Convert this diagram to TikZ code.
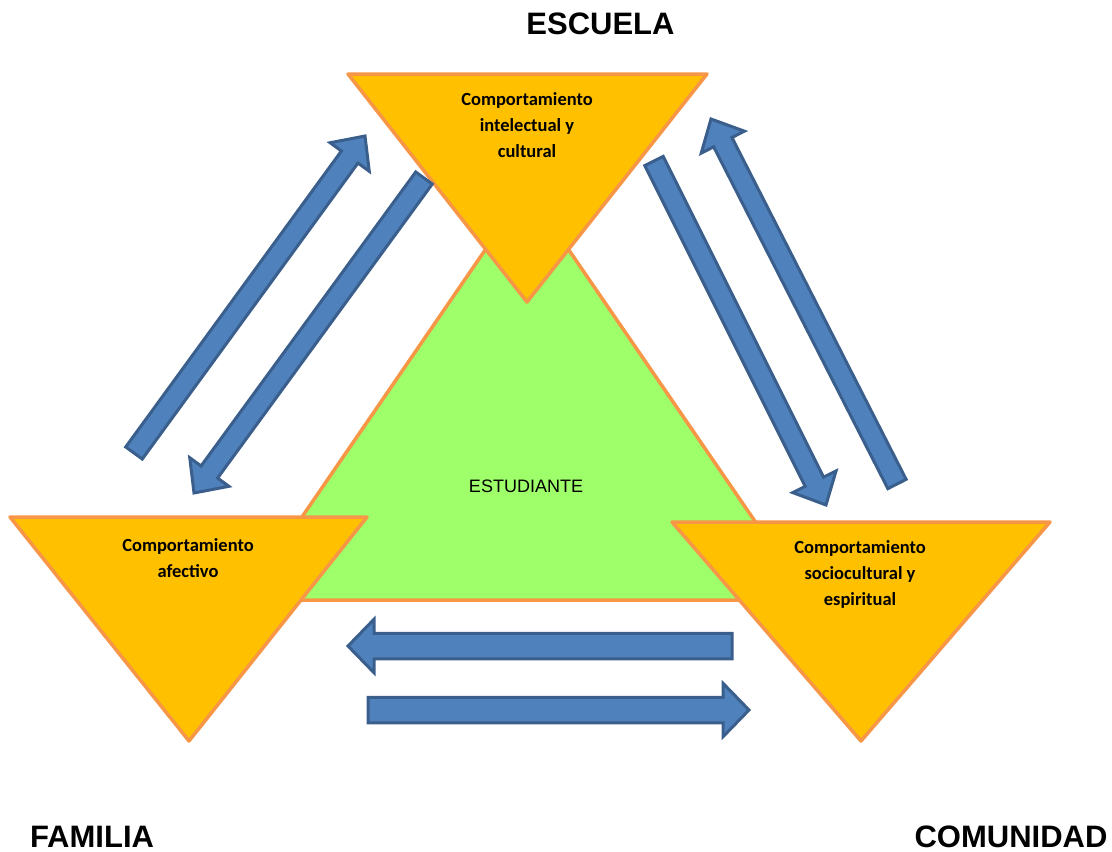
\documentclass[tikz,border=0pt]{standalone}
\usepackage{fontspec}
\setmainfont{Liberation Sans}
\newfontfamily\calibri{Carlito}
\usetikzlibrary{calc}

\definecolor{triorange}{HTML}{FFC000}
\definecolor{triedge}{HTML}{F79646}
\definecolor{midgreen}{HTML}{9EFF6A}
\definecolor{arrowblue}{HTML}{4F81BD}
\definecolor{arrowedge}{HTML}{3A5F8C}

% block arrow: name, tail, tip, half width of the shaft
\newcommand{\blockarrow}[4]{%
  \pgfmathsetmacro\headhalf{#4+14}
  \coordinate (#1b) at ($(#3)!26pt!(#2)$);
  \draw[barrow]
    ($(#2)!#4pt!90:(#3)$) -- ($(#1b)!#4pt!90:(#3)$) -- ($(#1b)!\headhalf pt!90:(#3)$)
    -- (#3) -- ($(#1b)!\headhalf pt!-90:(#3)$) -- ($(#1b)!#4pt!-90:(#3)$)
    -- ($(#2)!#4pt!-90:(#3)$) -- cycle;
}

\begin{document}
\begin{tikzpicture}[x=1pt, y=-1pt,
  tri/.style={fill=triorange, draw=triedge, line width=3.5pt, line join=round},
  barrow/.style={fill=arrowblue, draw=arrowedge, line width=3pt},
  title/.style={font=\bfseries\fontsize{31}{36}\selectfont, inner sep=0pt, anchor=base},
  trilabel/.style={font=\calibri\bfseries\fontsize{18.5}{26}\selectfont, align=center, inner sep=0pt, anchor=north}]

\useasboundingbox (0,0) rectangle (1112,852);

% middle triangle
\draw[fill=midgreen, draw=triedge, line width=3.5pt, line join=round]
    (527,189) -- (809,600) -- (245,600) -- cycle;
\node[font=\fontsize{18}{22}\selectfont, inner sep=0pt, anchor=base] (estudiante) at (526,492) {ESTUDIANTE};

% three corners
\draw[tri] (348,74) -- (707,74) -- (527,302) -- cycle;
\draw[tri] (10,517) -- (367,517) -- (189,741) -- cycle;
\draw[tri] (672,522) -- (1050,522) -- (861,741) -- cycle;

\node[trilabel] (intelectual) at (527,92) {Comportamiento\\intelectual y\\cultural};
\node[trilabel] (afectivo) at (188,538) {Comportamiento\\afectivo};
\node[trilabel] (sociocultural) at (860,540) {Comportamiento\\sociocultural y\\espiritual};

\node[title] (escuela) at (600.5,34) {ESCUELA};
\node[title] (familia) at (92,847) {FAMILIA};
\node[title] (comunidad) at (1011,847) {COMUNIDAD};

% arrows between the corners
\coordinate (famA) at (134,453);  \coordinate (escA) at (365,136);
\coordinate (escB) at (424,178);  \coordinate (famB) at (194,493);
\coordinate (escC) at (654,161);  \coordinate (comC) at (826,505);
\coordinate (comD) at (897,484);  \coordinate (escD) at (711,119);
\coordinate (comE) at (732,646);  \coordinate (famE) at (348,646);
\coordinate (famF) at (368,710);  \coordinate (comF) at (749,710);

\blockarrow{up}{famA}{escA}{10.25}
\blockarrow{down}{escB}{famB}{10.25}
\blockarrow{right}{escC}{comC}{10.25}
\blockarrow{back}{comD}{escD}{10.25}
\blockarrow{left}{comE}{famE}{12.75}
\blockarrow{over}{famF}{comF}{12.75}

\end{tikzpicture}
\end{document}
